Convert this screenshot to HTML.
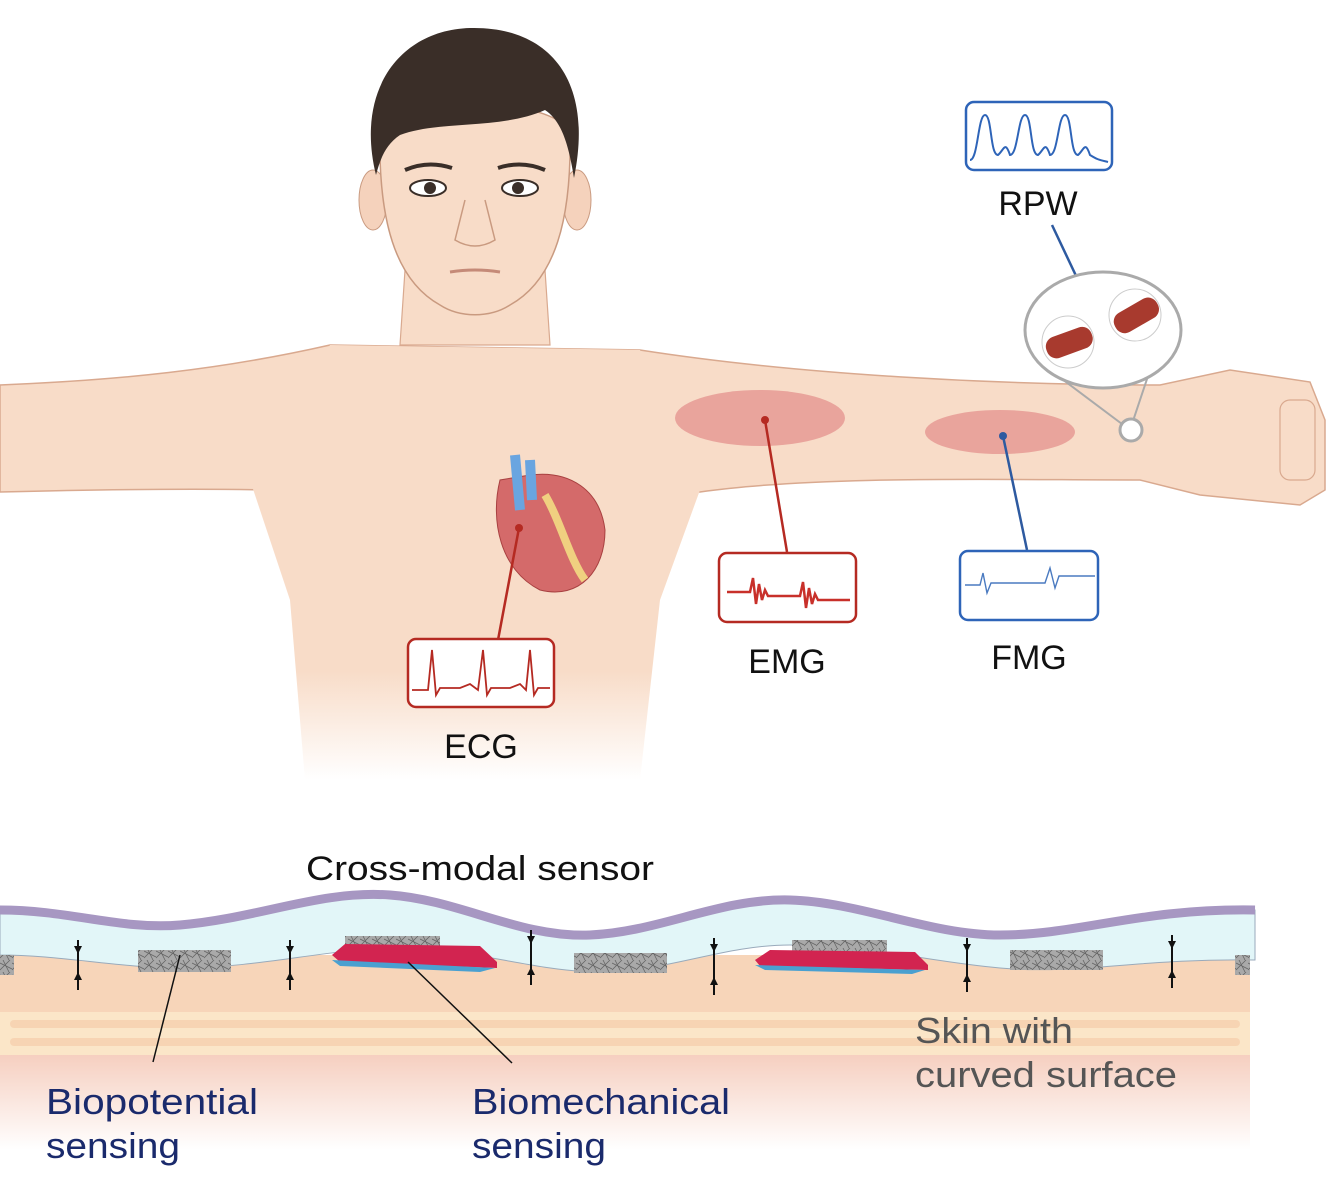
<!DOCTYPE html>
<html><head><meta charset="utf-8"><style>
html,body{margin:0;padding:0;background:#fff;}
svg{display:block;}
text{font-family:"Liberation Sans",sans-serif;}
</style></head><body>
<svg width="1334" height="1192" viewBox="0 0 1334 1192" xmlns="http://www.w3.org/2000/svg">
<defs>
<linearGradient id="fade" x1="0" y1="0" x2="0" y2="1">
<stop offset="0.75" stop-color="#f8dcc8" stop-opacity="1"/>
<stop offset="1" stop-color="#f8dcc8" stop-opacity="0"/>
</linearGradient>
<linearGradient id="deep" x1="0" y1="0" x2="0" y2="1">
<stop offset="0" stop-color="#f6cfc0"/>
<stop offset="1" stop-color="#ffffff"/>
</linearGradient>
<pattern id="mesh" width="12" height="12" patternUnits="userSpaceOnUse">
<rect width="12" height="12" fill="#a9a9a9"/>
<path d="M0 3L12 9M3 0L9 12M0 10L10 0" stroke="#666" stroke-width="0.8"/>
</pattern>
</defs>
<path d="M0 385 C120 380 220 370 330 345 L640 350 C800 375 1000 385 1160 385 L1230 370 L1310 382 L1325 420 L1325 490 L1300 505 L1200 495 L1140 480 C1000 480 820 475 700 492 L650 490 L270 490 C180 488 80 490 0 492 Z" fill="#f8dcc8" stroke="#d9a98f" stroke-width="1.5"/>
<path d="M250 480 L330 345 L640 350 L700 490 L660 600 L640 780 L305 780 L290 600 Z" fill="url(#fade)"/>
<path d="M405 270 L400 345 L550 345 L545 270 Z" fill="#f8dcc8" stroke="#d9a98f" stroke-width="1.2"/>
<ellipse cx="373" cy="200" rx="14" ry="30" fill="#f5d2bc" stroke="#c99a80"/>
<ellipse cx="577" cy="200" rx="14" ry="30" fill="#f5d2bc" stroke="#c99a80"/>
<path d="M380 130 C378 220 395 280 440 305 C460 318 490 318 510 305 C555 280 572 220 570 130 C540 95 410 95 380 130 Z" fill="#f8dcc8" stroke="#c99a80" stroke-width="1.5"/>
<path d="M376 175 C355 90 400 30 470 28 C545 26 595 75 574 178 C568 140 560 120 545 110 C500 130 440 120 400 135 C385 145 380 160 376 175 Z" fill="#3a2e28"/>
<ellipse cx="428" cy="188" rx="18" ry="8" fill="#fff" stroke="#3a2e28" stroke-width="2"/>
<circle cx="430" cy="188" r="6" fill="#3a2e28"/>
<ellipse cx="520" cy="188" rx="18" ry="8" fill="#fff" stroke="#3a2e28" stroke-width="2"/>
<circle cx="518" cy="188" r="6" fill="#3a2e28"/>
<path d="M405 170 Q428 160 452 168 M498 168 Q522 160 545 170" stroke="#3a2e28" stroke-width="4" fill="none"/>
<path d="M465 200 L455 240 Q475 252 495 240 L485 200" stroke="#c99a80" fill="none" stroke-width="1.5"/>
<path d="M450 272 Q475 268 500 272" stroke="#c58a78" stroke-width="3" fill="none"/>
<path d="M500 480 C490 520 500 570 540 590 C580 600 605 570 605 530 C600 490 570 470 530 475 Z" fill="#d46a6a" stroke="#a84040"/>
<path d="M545 495 C560 520 570 560 585 580" stroke="#f0d080" stroke-width="8" fill="none"/>
<path d="M515 455 L520 510 M530 460 L532 500" stroke="#6aa5e0" stroke-width="10"/>
<ellipse cx="760" cy="418" rx="85" ry="28" fill="#e69a94" opacity="0.85"/>
<ellipse cx="1000" cy="432" rx="75" ry="22" fill="#e69a94" opacity="0.85"/>
<line x1="519" y1="528" x2="498" y2="640" stroke="#b52a22" stroke-width="2.5"/>
<circle cx="519" cy="528" r="4" fill="#b52a22"/>
<line x1="765" y1="420" x2="787" y2="552" stroke="#b52a22" stroke-width="2.5"/>
<circle cx="765" cy="420" r="4" fill="#b52a22"/>
<line x1="1003" y1="436" x2="1027" y2="550" stroke="#2e5aa0" stroke-width="2.5"/>
<circle cx="1003" cy="436" r="4" fill="#2e5aa0"/>
<line x1="1052" y1="225" x2="1078" y2="280" stroke="#2e5aa0" stroke-width="2.5"/>
<circle cx="1078" cy="280" r="4" fill="#2e5aa0"/>
<path d="M1050 370 L1130 430 L1160 340" stroke="#aaa" stroke-width="2" fill="none"/>
<ellipse cx="1103" cy="330" rx="78" ry="58" fill="#fff" stroke="#aaa" stroke-width="3"/>
<circle cx="1131" cy="430" r="11" fill="#fff" stroke="#aaa" stroke-width="3"/>
<circle cx="1068" cy="342" r="26" fill="#fff" stroke="#ccc"/>
<circle cx="1135" cy="315" r="26" fill="#fff" stroke="#ccc"/>
<rect x="1045" y="332" width="48" height="22" rx="10" fill="#a83a2e" transform="rotate(-20 1068 342)"/>
<rect x="1112" y="305" width="48" height="22" rx="10" fill="#a83a2e" transform="rotate(-30 1135 315)"/>
<rect x="1280" y="400" width="35" height="80" rx="10" fill="none" stroke="#d9a98f" stroke-width="1.2"/>
<rect x="408" y="639" width="146" height="68" rx="8" fill="#fff" stroke="#b52a22" stroke-width="2.5"/>
<path d="M412 690 H428 L432 650 L436 695 L440 688 H460 L470 684 L478 690 L483 650 L487 695 L491 688 H510 L520 684 L526 690 L530 650 L534 695 L538 688 H550" stroke="#b52a22" stroke-width="1.8" fill="none"/>
<rect x="719" y="553" width="137" height="69" rx="8" fill="#fff" stroke="#b52a22" stroke-width="2.5"/>
<path d="M727 592 H750 l3 -14 l3 26 l3 -20 l3 16 l3 -10 l3 6 H800 l3 -14 l3 26 l3 -20 l3 16 l3 -10 l3 6 H850" stroke="#c8302a" stroke-width="2.5" fill="none"/>
<rect x="960" y="551" width="138" height="69" rx="8" fill="#fff" stroke="#2e64b8" stroke-width="2.5"/>
<path d="M965 585 H980 l3 -12 l4 20 l4 -10 H1045 l5 -15 l5 20 l4 -12 H1095" stroke="#4a7ac0" stroke-width="1.4" fill="none"/>
<rect x="966" y="102" width="146" height="68" rx="8" fill="#fff" stroke="#2e64b8" stroke-width="2.5"/>
<path d="M970 160 C978 160 978 115 985 115 C992 115 990 155 998 155 C1004 150 1005 140 1010 155 C1018 155 1018 115 1025 115 C1032 115 1030 155 1038 155 C1044 150 1045 140 1050 155 C1058 155 1058 115 1065 115 C1072 115 1070 155 1078 155 C1084 150 1085 140 1090 155 C1098 160 1100 160 1108 162" stroke="#2e64b8" stroke-width="2" fill="none"/>
<g font-size="34" fill="#111" text-anchor="middle">
<text x="481" y="758">ECG</text>
<text x="787" y="673">EMG</text>
<text x="1029" y="669">FMG</text>
<text x="1038" y="215">RPW</text>
</g>
<rect x="0" y="955" width="1250" height="60" fill="#f7d5b9"/>
<rect x="0" y="1012" width="1250" height="45" fill="#fbe6c8"/>
<g fill="#f6cfae">
<rect x="10" y="1020" width="1230" height="8" rx="4" opacity="0.8"/>
<rect x="10" y="1038" width="1230" height="8" rx="4" opacity="0.8"/>
</g>
<rect x="0" y="1055" width="1250" height="95" fill="url(#deep)"/>
<path d="M0 910 C70 910 120 930 180 925 C260 918 320 890 390 895 C460 900 520 938 590 935 C660 932 720 898 790 900 C860 902 930 935 1000 935 C1080 935 1140 908 1255 910 L1255 960 C1140 958 1080 975 1000 968 C930 962 870 945 790 945 C720 945 660 975 590 972 C520 968 470 948 400 948 C330 948 260 968 180 968 C120 968 60 955 0 955 Z" fill="#e2f6f8" stroke="#9ab" stroke-width="1"/>
<path d="M0 910 C70 910 120 930 180 925 C260 918 320 890 390 895 C460 900 520 938 590 935 C660 932 720 898 790 900 C860 902 930 935 1000 935 C1080 935 1140 908 1255 910" stroke="#a797c2" stroke-width="9" fill="none"/>
<g fill="url(#mesh)">
<rect x="0" y="955" width="14" height="20"/>
<rect x="138" y="950" width="93" height="22"/>
<rect x="345" y="936" width="95" height="16"/>
<rect x="574" y="953" width="93" height="20"/>
<rect x="792" y="940" width="95" height="14"/>
<rect x="1010" y="950" width="93" height="20"/>
<rect x="1235" y="955" width="15" height="20"/>
</g>
<path d="M332 955 L345 944 L480 946 L497 962 L497 968 L340 962 Z" fill="#d22450"/>
<path d="M332 960 L495 968 L480 972 L340 966 Z" fill="#4aa0d0"/>
<path d="M755 960 L770 950 L915 952 L928 965 L928 970 L760 966 Z" fill="#d22450"/>
<path d="M755 965 L925 970 L912 974 L765 970 Z" fill="#4aa0d0"/>
<g stroke="#111" stroke-width="2" fill="#111">
<line x1="78" y1="940" x2="78" y2="990"/><line x1="290" y1="940" x2="290" y2="990"/><line x1="531" y1="930" x2="531" y2="985"/><line x1="714" y1="938" x2="714" y2="995"/><line x1="967" y1="938" x2="967" y2="992"/><line x1="1172" y1="935" x2="1172" y2="988"/>
</g>
<g fill="#111">
<path d="M74 946 l4 8 l4 -8 z M74 980 l4 -8 l4 8 z"/>
<path d="M286 946 l4 8 l4 -8 z M286 980 l4 -8 l4 8 z"/>
<path d="M527 936 l4 8 l4 -8 z M527 975 l4 -8 l4 8 z"/>
<path d="M710 944 l4 8 l4 -8 z M710 985 l4 -8 l4 8 z"/>
<path d="M963 944 l4 8 l4 -8 z M963 982 l4 -8 l4 8 z"/>
<path d="M1168 941 l4 8 l4 -8 z M1168 978 l4 -8 l4 8 z"/>
</g>
<line x1="180" y1="955" x2="153" y2="1062" stroke="#111" stroke-width="1.5"/>
<line x1="408" y1="962" x2="512" y2="1063" stroke="#111" stroke-width="1.5"/>
<text x="306" y="880" font-size="34" fill="#111" textLength="348" lengthAdjust="spacingAndGlyphs">Cross-modal sensor</text>
<g font-size="36" fill="#1a2a6c">
<text x="46" y="1114" textLength="212" lengthAdjust="spacingAndGlyphs">Biopotential</text>
<text x="46" y="1158" textLength="134" lengthAdjust="spacingAndGlyphs">sensing</text>
<text x="472" y="1114" textLength="258" lengthAdjust="spacingAndGlyphs">Biomechanical</text>
<text x="472" y="1158" textLength="134" lengthAdjust="spacingAndGlyphs">sensing</text>
</g>
<g font-size="36" fill="#555">
<text x="915" y="1043" textLength="158" lengthAdjust="spacingAndGlyphs">Skin with</text>
<text x="915" y="1087" textLength="262" lengthAdjust="spacingAndGlyphs">curved surface</text>
</g>
</svg>
</body></html>
